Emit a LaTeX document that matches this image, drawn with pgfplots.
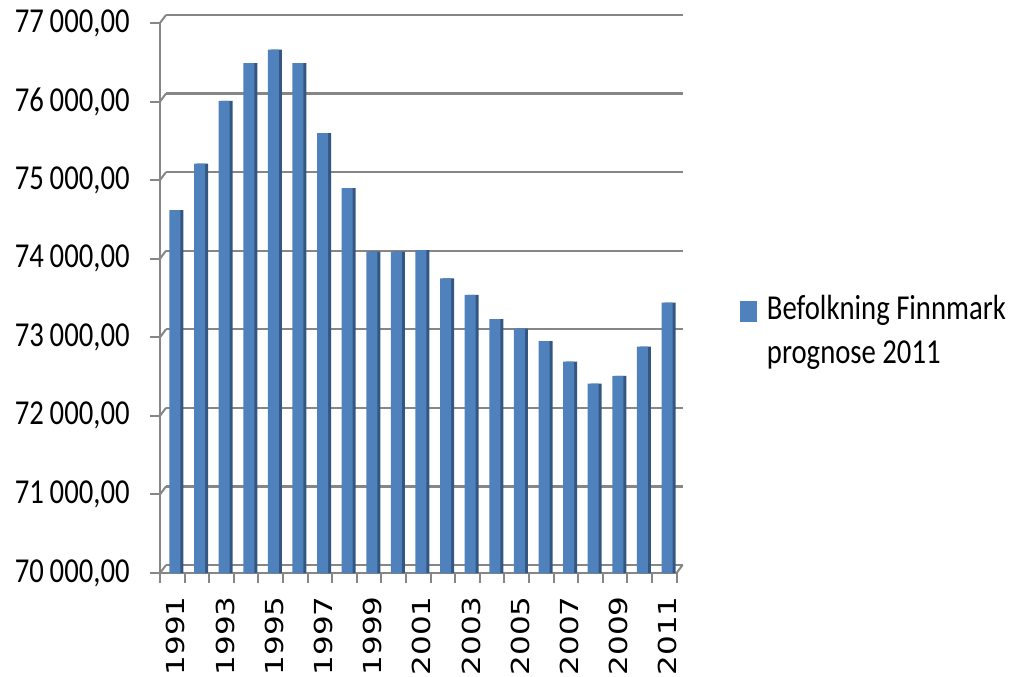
\documentclass[border=0pt]{standalone}
\usepackage{fontspec}
\setmainfont{Carlito}[FakeStretch=0.82]
\newfontfamily\yearfont{DejaVu Sans}[FakeStretch=1.25]
\usepackage{pgfplots}
\usepackage{pgfplotstable}
\pgfplotsset{compat=1.18}
\definecolor{barblue}{RGB}{79,129,189}
\definecolor{barside}{RGB}{52,87,130}
\definecolor{gridgray}{RGB}{134,134,134}

\pgfplotstableread{
idx year value
0 1991 74620
1 1992 75210
2 1993 76010
3 1994 76490
4 1995 76660
5 1996 76490
6 1997 75600
7 1998 74900
8 1999 74090
9 2000 74090
10 2001 74110
11 2002 73750
12 2003 73540
13 2004 73230
14 2005 73110
15 2006 72950
16 2007 72690
17 2008 72410
18 2009 72510
19 2010 72880
20 2011 73440
}\popdata

\begin{document}
\begin{tikzpicture}
\useasboundingbox (-80pt,-51.5pt) rectangle (426pt,286.5pt);
\begin{axis}[
  at={(0,0)}, anchor=south west,
  scale only axis, width=258.3pt, height=275pt,
  xmin=-0.5, xmax=20.5, ymin=70000, ymax=77000,
  axis x line*=bottom, axis y line*=left,
  axis line style={gridgray, line width=1pt, -},
  ytick={70000,71000,72000,73000,74000,75000,76000,77000},
  scaled y ticks=false,
  ymajorgrids,
  major grid style={gridgray, line width=1.2pt, xshift=3pt, yshift=4pt},
  xtick={0,2,4,6,8,10,12,14,16,18,20},
  xticklabels={1991,1993,1995,1997,1999,2001,2003,2005,2007,2009,2011},
  minor xtick={-0.5,0.5,...,20.5},
  tick align=outside,
  major tick length=5pt, minor tick length=5pt,
  tick style={gridgray, line width=1pt},
  every major x tick/.append style={draw=none},
  yticklabel style={font=\fontsize{17.5}{20}\selectfont, inner sep=0pt, xshift=-10pt},
  xticklabel style={font=\yearfont\fontsize{12.4}{14}\selectfont, xshift=1.8pt, yshift=-6.5pt, rotate=90, anchor=east, inner sep=0pt},
  /pgf/number format/assume math mode=true,
  yticklabel={\pgfmathprintnumber[fixed, fixed zerofill, precision=2, use comma, 1000 sep={\,}]{\tick}},
  ybar, bar width=5.5pt,
  legend style={at={(1.1227,0.5178)}, anchor=north west, draw=none, fill=none,
    inner sep=0pt, outer sep=0pt, row sep=0pt,
    cells={anchor=base west},
    nodes={inner sep=0pt, font=\fontsize{17.5}{22}\selectfont}},
]
\addplot[fill=barside, draw=none, bar shift=2.85pt, forget plot] table[x=idx, y=value] {\popdata};
\addplot[fill=barblue, draw=none, bar shift=1.35pt,
  legend image code/.code={\fill[barblue] (0pt,-1.5pt) rectangle (8.5pt,9pt); \path (13.5pt,0pt);}]
  table[x=idx, y=value] {\popdata};
\addlegendentry{\begin{tabular}[t]{@{}l@{}}Befolkning Finnmark\\prognose 2011\end{tabular}}
\end{axis}
\foreach \i in {0,...,7} {\draw[gridgray, line width=1pt] (0pt,\i*39.2857pt) -- ++(3pt,4pt);}
\draw[gridgray, line width=1pt] (258.3pt,0pt) -- ++(3pt,4pt);
\end{tikzpicture}
\end{document}
